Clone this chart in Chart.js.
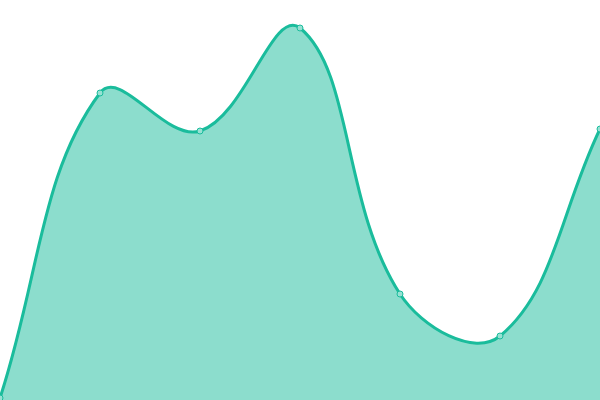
<!DOCTYPE html>
<html>
<head>
<meta charset="utf-8">
<script src="https://cdn.jsdelivr.net/npm/chart.js@4"></script>
<style>
  html, body { margin:0; padding:0; background:#fff; }
  #wrap { width:600px; height:400px; }
</style>
</head>
<body>
<div id="wrap"><canvas id="chart" width="600" height="400"></canvas></div>
<script>
// data (y axis 0..400)
const LABELS = ['A','B','C','D','E','F','G'];
const VALUES = [2, 307, 269, 372, 106, 64, 271];
const Y_MIN = 0, Y_MAX = 400;

const ctx = document.getElementById('chart').getContext('2d');
new Chart(ctx, {
  type: 'line',
  data: {
    labels: LABELS,
    datasets: [{
      data: VALUES,
      borderColor: '#1abc9c',
      backgroundColor: 'rgba(26,188,156,0.5)',
      borderWidth: 3,
      fill: true,
      tension: 0.4,
      pointRadius: 3,
      pointBorderWidth: 1,
      pointBorderColor: '#1abc9c',
      pointBackgroundColor: '#97e1d3'
    }]
  },
  options: {
    responsive: false,
    animation: false,
    layout: {padding: 0, autoPadding: false},
    plugins: {legend: {display:false}, tooltip: {enabled:false}},
    scales: {
      x: {display:false},
      y: {display:false, min:Y_MIN, max:Y_MAX}
    }
  }
});
</script>
</body>
</html>
